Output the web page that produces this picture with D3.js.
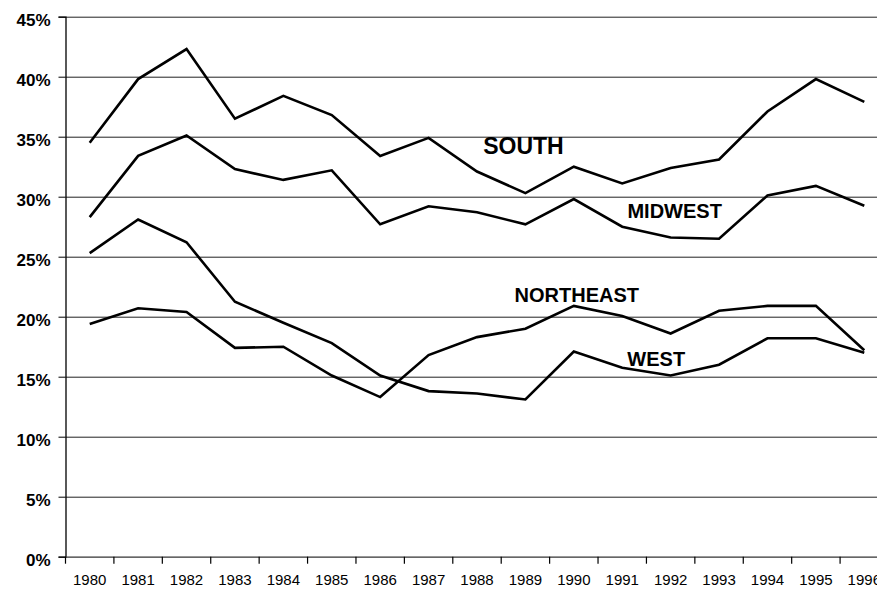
<!DOCTYPE html>
<html>
<head>
<meta charset="utf-8">
<script src="https://cdn.jsdelivr.net/npm/d3@7"></script>
<style>
body { margin: 0; background: #fff; }
svg { display: block; font-family: "Liberation Sans", Arial, sans-serif; }
.grid line { stroke: #222; stroke-width: 1; }
.grid path { display: none; }
.series { fill: none; stroke: #000; stroke-width: 2.6; stroke-linejoin: miter; }
</style>
</head>
<body>
<svg width="877" height="589"></svg>
<script>
var years = ["1980", "1981", "1982", "1983", "1984", "1985", "1986", "1987", "1988",
	"1989", "1990", "1991", "1992", "1993", "1994", "1995", "1996"];
var yTicks = [0, 5, 10, 15, 20, 25, 30, 35, 40, 45];
var south = [34.5, 39.8, 42.3, 36.5, 38.4, 36.8, 33.4, 34.9, 32.1, 30.3, 32.5, 31.1, 32.4, 33.1, 37.1, 39.8, 37.9];
var midwest = [28.3, 33.4, 35.1, 32.3, 31.4, 32.2, 27.7, 29.2, 28.7, 27.7, 29.8, 27.5, 26.6, 26.5, 30.1, 30.9, 29.25];
var northeast = [19.4, 20.7, 20.4, 17.4, 17.5, 15.1, 13.3, 16.8, 18.3, 19.0, 20.9, 20.05, 18.6, 20.5, 20.9, 20.9, 17.2];
var west = [25.3, 28.1, 26.2, 21.25, 19.5, 17.8, 15.1, 13.8, 13.6, 13.1, 17.1, 15.75, 15.1, 16.0, 18.2, 18.2, 17.0];
var series = [south, midwest, northeast, west];
// annotation labels: anchored to a year / value
var labels = [
	{ text: "SOUTH", year: "1989", value: 33.55, dx: -2, size: 23 },
	{ text: "MIDWEST", year: "1992", value: 28.25, dx: 4, size: 20 },
	{ text: "NORTHEAST", year: "1990", value: 21.25, dx: 3, size: 20 },
	{ text: "WEST", year: "1991", value: 15.9, dx: 34, size: 20 }
];

var margin = { left: 65.5, top: 16.7 };
var svg = d3.select("svg");
var width = 823;
var height = 540;
var g = svg.append("g").attr("transform", "translate(" + margin.left + "," + margin.top + ")");

var x = d3.scaleBand().domain(years).range([0, width]);
var y = d3.scaleLinear().domain([0, 45]).range([height, 0]);

// horizontal grid
g.append("g").attr("class", "grid")
	.call(d3.axisLeft(y).tickValues(yTicks.slice(1)).tickSize(-width).tickFormat(""));

// y axis
var yAxis = g.append("g").call(d3.axisLeft(y).tickValues(yTicks).tickSize(7).tickPadding(8)
	.tickFormat(function(d) { return d + "%"; }));
yAxis.select(".domain").attr("stroke", "#000").attr("stroke-width", 1.3);
yAxis.selectAll(".tick line").attr("stroke", "#000");
yAxis.selectAll("text").attr("font-size", 17).attr("font-weight", "bold")
	.attr("fill", "#000").attr("font-family", "Liberation Sans, Arial, sans-serif")
	.attr("dy", "0.5em");

// x axis: labels at category centers, ticks between categories
var xAxis = g.append("g").attr("transform", "translate(0," + height + ")")
	.call(d3.axisBottom(x).tickSize(0).tickPadding(18));
xAxis.select(".domain").attr("stroke", "#333").attr("stroke-width", 1.3);
xAxis.selectAll("text").attr("font-size", 15).attr("fill", "#000")
	.attr("font-family", "Liberation Sans, Arial, sans-serif");
g.append("g").selectAll("line").data(years).enter().append("line")
	.attr("x1", function(d) { return x(d); })
	.attr("x2", function(d) { return x(d); })
	.attr("y1", height).attr("y2", height + 7)
	.attr("stroke", "#000").attr("stroke-width", 1.2);

var line = d3.line()
	.x(function(d, i) { return x(years[i]) + x.bandwidth() / 2; })
	.y(function(d) { return y(d); });

g.append("g").selectAll("path").data(series).enter().append("path")
	.attr("class", "series").attr("d", line);

g.append("g").selectAll("text").data(labels).enter().append("text")
	.attr("x", function(d) { return x(d.year) + x.bandwidth() / 2 + d.dx; })
	.attr("y", function(d) { return y(d.value); })
	.attr("text-anchor", "middle")
	.attr("font-weight", "bold")
	.attr("font-size", function(d) { return d.size; })
	.text(function(d) { return d.text; });
</script>
</body>
</html>
